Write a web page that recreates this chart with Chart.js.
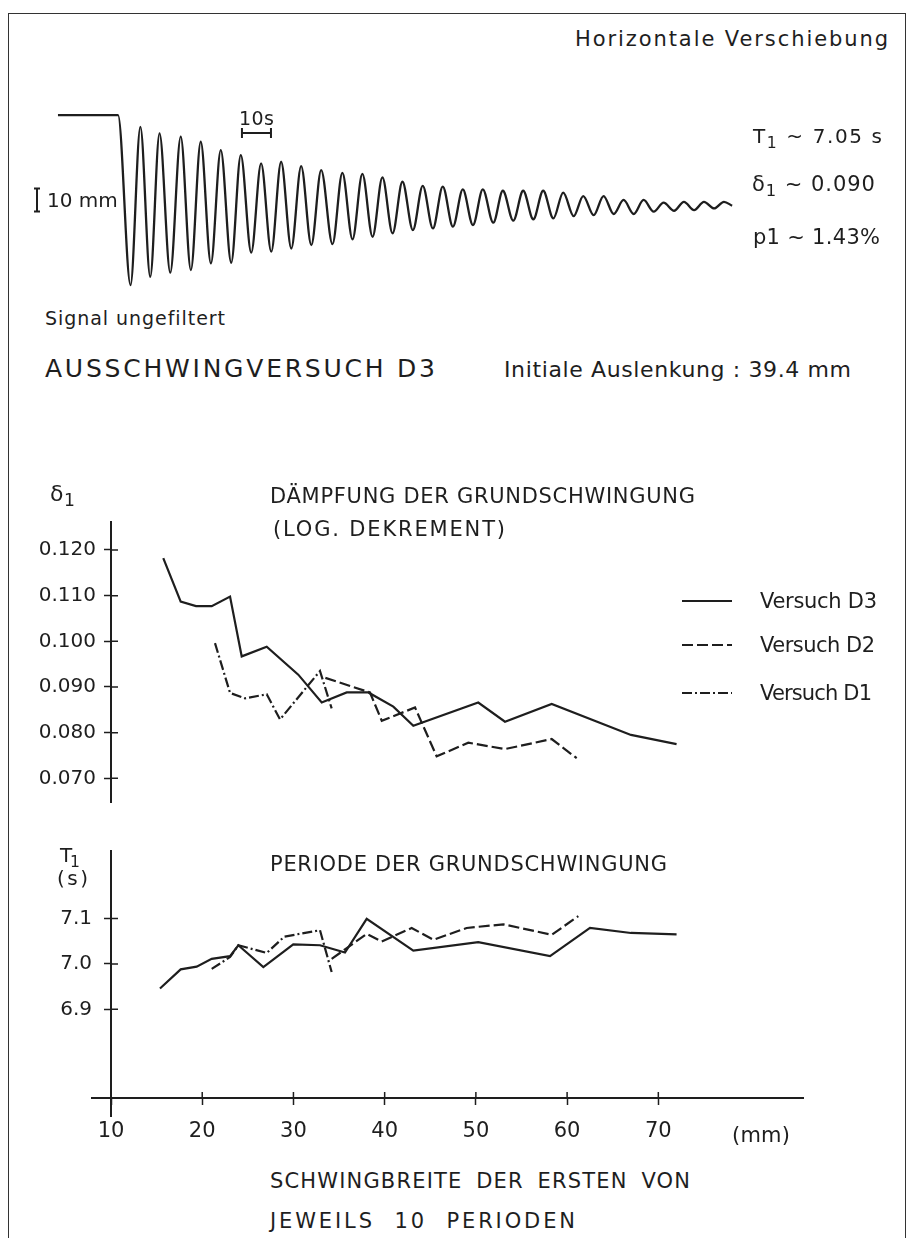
<!DOCTYPE html>
<html><head><meta charset="utf-8">
<script src="https://cdn.jsdelivr.net/npm/chart.js@4.4.1/dist/chart.umd.min.js"></script>
<style>
body{margin:0;background:#fff;}
#page{position:relative;width:912px;height:1238px;overflow:hidden;background:#fff;font-family:"DejaVu Sans",Arial,sans-serif;color:#1e1e1e;}
.t{position:absolute;white-space:pre;line-height:1;}
.t sub{font-size:0.78em;vertical-align:-0.3em;line-height:0;}
canvas{position:absolute;}
#frame{position:absolute;left:8px;top:13px;width:898px;height:1260px;border:1.5px solid #333;box-sizing:border-box;}
</style></head>
<body><div id="page">
<div id="frame"></div>
<canvas id="sig" width="740" height="210" style="left:20px;top:90px"></canvas>
<canvas id="dmp" width="912" height="320" style="left:0px;top:502px"></canvas>
<canvas id="per" width="912" height="331" style="left:0px;top:827px"></canvas>
</div>
<script>
// ---------- data ----------
const signalTime = [-21.5,-0.8,3.5,6.9,10.3,13.5,17.2,20.8,24.3,27.7,31.2,34.6,38.2,41.5,45.1,48.5,52.0,55.4,58.9,62.3,65.8,69.2,73.1,76.5,80.0,83.4,86.9,90.3,93.8,97.2,100.8,104.2,107.7,111.1,114.6,118.0,121.5,124.9,128.5,131.8,135.4,138.8,142.3,145.7,149.2,152.6,156.2,159.5,163.1,166.5,170.0,173.4,176.9,180.3,183.8,187.2,190.8,194.2,197.7,201.1,204.6,208.0,210.8];
const signalValue = [39.4,39.4,-34.5,34.3,-30.9,31.4,-29.1,30.0,-28.0,27.8,-25.1,24.2,-24.8,22.0,-20.4,18.4,-20.0,19.1,-18.6,17.2,-17.1,15.5,-16.7,14.3,-14.6,13.8,-13.5,12.3,-12.0,10.4,-10.6,8.6,-9.9,8.3,-9.1,7.1,-8.4,7.1,-7.4,6.5,-6.5,6.5,-5.9,6.5,-5.5,5.7,-4.5,4.2,-4.1,4.2,-3.6,2.5,-3.6,2.5,-2.6,1.3,-2.2,1.7,-1.9,1.7,-1.2,1.7,0.0];
const timeBarStart = 41.9, timeBarLength = 10;      // "10s" bar
const ampBarStart = -2.5, ampBarLength = 10;        // "10 mm" bar

const xTickValues = [10,20,30,40,50,60,70];
const xTickLabels = ['10','20','30','40','50','60','70'];
const deltaTickValues = [0.120,0.110,0.100,0.090,0.080,0.070];
const deltaTickLabels = ['0.120','0.110','0.100','0.090','0.080','0.070'];
const periodTickValues = [7.1,7.0,6.9];
const periodTickLabels = ['7.1','7.0','6.9'];

const d3DeltaX = [15.73,17.64,19.32,21.04,23.05,24.33,27.07,30.53,33.10,35.84,38.21,40.95,43.14,50.26,53.19,58.31,67.0,72.0];
const d3DeltaY = [0.1182,0.1087,0.1077,0.1077,0.1098,0.0967,0.0988,0.0927,0.0866,0.0888,0.0888,0.0857,0.0815,0.0866,0.0824,0.0863,0.0795,0.0775];
const d2DeltaX = [33.5,38.39,39.68,43.33,45.70,49.17,53.19,58.31,61.05];
const d2DeltaY = [0.0920,0.0888,0.0826,0.0855,0.0748,0.0778,0.0764,0.0786,0.0744];
const d1DeltaX = [21.40,23.05,24.69,27.07,28.53,32.91,34.19];
const d1DeltaY = [0.0996,0.0887,0.0875,0.0884,0.0829,0.0935,0.0853];

const d3PeriodX = [15.37,17.64,19.39,21.04,23.05,23.96,26.70,29.98,32.91,35.65,38.03,43.14,50.26,58.13,62.51,67.0,72.0];
const d3PeriodY = [6.946,6.988,6.994,7.011,7.017,7.041,6.993,7.043,7.041,7.025,7.099,7.029,7.048,7.017,7.079,7.068,7.065];
const d2PeriodX = [34.19,38.03,39.68,42.96,45.33,48.99,53.01,58.31,61.23];
const d2PeriodY = [7.011,7.066,7.049,7.079,7.053,7.079,7.087,7.064,7.105];
const d1PeriodX = [21.04,23.05,23.96,27.07,29.0,32.91,34.19];
const d1PeriodY = [6.989,7.015,7.041,7.024,7.060,7.074,6.982];

const seriesNames = ['Versuch D3','Versuch D2','Versuch D1'];

// ---------- styles ----------
const INK = '#1e1e1e';
const FONT = '"DejaVu Sans", Arial, sans-serif';
const dashD3 = [], dashD2 = [11,4], dashD1 = [10,3,2,3];
const pts = (xs, ys) => xs.map((x,i)=>({x, y: ys[i]}));
const ds = (xs, ys, dash, label) => ({label, data: pts(xs,ys), borderColor: INK, borderWidth: 2.2, borderDash: dash, pointRadius: 0, tension: 0, fill: false});

// ---------- text ----------
const page = document.getElementById('page');
function place(html, left, right, baseline, fs, wordGap){
  const d = document.createElement('div');
  d.className = 't'; d.innerHTML = html;
  d.style.fontSize = fs + 'px';
  d.style.left = left + 'px';
  d.style.top = (baseline - 0.846*fs) + 'px';
  if (wordGap) d.style.wordSpacing = wordGap + 'px';
  page.appendChild(d);
  if (right){
    const w = d.getBoundingClientRect().width;
    const n = d.textContent.length;
    if (n > 1) d.style.letterSpacing = ((right - left - w)/(n-1)) + 'px';
  }
}
place('Horizontale Verschiebung', 575, 888, 46.7, 21);
place('T<sub>1</sub> ~ 7.05 s', 753, 882, 143, 20);
place('δ<sub>1</sub> ~ 0.090', 752, 875, 191.7, 21);
place('p1 ~ 1.43%', 753, 880, 245, 21);
place('10 mm', 47, null, 206.7, 20);
place('10s', 239, 274, 125, 19);
place('Signal ungefiltert', 45, 225, 325, 19);
place('AUSSCHWINGVERSUCH D3', 45, 435, 376.7, 25);
place('Initiale Auslenkung : 39.4 mm', 504, 851, 378, 22);
place('δ<sub>1</sub>', 50, 75, 502, 22);
place('DÄMPFUNG DER GRUNDSCHWINGUNG', 270, 695, 504, 21);
place('(LOG. DEKREMENT)', 273, 505, 537, 21);
place('T<sub>1</sub>', 60, 80, 862, 20);
place('(s)', 57, 88, 885, 20);
place('PERIODE DER GRUNDSCHWINGUNG', 270, 667, 871.7, 21);
place('(mm)', 732, 790, 1143, 21);
place('SCHWINGBREITE DER ERSTEN VON', 270, 690, 1189, 21, 6);
place('JEWEILS 10 PERIODEN', 270, 575, 1229, 21, 10);
place(seriesNames[0], 760, 877, 608.5, 21);
place(seriesNames[1], 760, 875, 652.5, 21);
place(seriesNames[2], 760, 872, 700.5, 21);

// ---------- plugins ----------
const sigBars = {
  id: 'sigBars',
  afterDraw(chart){
    const {ctx, scales:{x, y}} = chart;
    ctx.save(); ctx.strokeStyle = INK; ctx.lineWidth = 2;
    const a = x.getPixelForValue(timeBarStart), b = x.getPixelForValue(timeBarStart + timeBarLength), yy = 43;
    ctx.beginPath(); ctx.moveTo(a,yy); ctx.lineTo(b,yy);
    ctx.moveTo(a,yy-5); ctx.lineTo(a,yy+5); ctx.moveTo(b,yy-5); ctx.lineTo(b,yy+5); ctx.stroke();
    const p = y.getPixelForValue(ampBarStart), q = y.getPixelForValue(ampBarStart + ampBarLength), xx = 17;
    ctx.beginPath(); ctx.moveTo(xx,p); ctx.lineTo(xx,q);
    ctx.moveTo(xx-3,p); ctx.lineTo(xx+3,p); ctx.moveTo(xx-3,q); ctx.lineTo(xx+3,q); ctx.stroke();
    ctx.restore();
  }
};
const crossTicks = {
  id: 'crossTicks',
  afterDraw(chart, args, opts){
    const {ctx, chartArea:ca, scales} = chart;
    ctx.save(); ctx.strokeStyle = INK; ctx.lineWidth = 1.5;
    ctx.beginPath();
    scales.y.ticks.forEach(t => { const py = scales.y.getPixelForValue(t.value); ctx.moveTo(ca.left, py); ctx.lineTo(ca.left + 7, py); });
    if (scales.x.options.display){
      scales.x.ticks.forEach(t => { const px = scales.x.getPixelForValue(t.value); if (px > ca.left + 2){ ctx.moveTo(px, ca.bottom); ctx.lineTo(px, ca.bottom - 6);} });
    }
    ctx.stroke();
    if (opts.extend){
      ctx.lineWidth = 2; ctx.beginPath();
      ctx.moveTo(ca.left, ca.bottom); ctx.lineTo(ca.left, ca.bottom + 19);
      ctx.moveTo(ca.left - 20, ca.bottom); ctx.lineTo(ca.left, ca.bottom);
      ctx.stroke();
    }
    if (opts.legend){
      const ys = [601 - 502, 645 - 502, 693 - 502];
      chart.data.datasets.forEach((d, i) => {
        ctx.lineWidth = 2; ctx.setLineDash(d.borderDash || []);
        ctx.beginPath(); ctx.moveTo(682, ys[i]); ctx.lineTo(732, ys[i]); ctx.stroke();
      });
      ctx.setLineDash([]);
    }
    ctx.restore();
  }
};

Chart.defaults.font.family = FONT;
Chart.defaults.color = INK;

// ---------- signal ----------
new Chart(document.getElementById('sig'), {
  type: 'line',
  data: {datasets: [{data: pts(signalTime, signalValue), borderColor: INK, borderWidth: 2.3, pointRadius: 0, cubicInterpolationMode: 'monotone', fill: false}]},
  options: {
    responsive: false, animation: false, layout: {padding: 0},
    plugins: {legend: {display: false}, tooltip: {enabled: false}},
    scales: {x: {type: 'linear', display: false, min: -34.58, max: 220.41}, y: {display: false, min: -41.0, max: 50.3}}
  },
  plugins: [sigBars]
});

function yAxis(min, max, tickValues, tickLabels, pad){
  return {
    min, max,
    afterBuildTicks: s => { s.ticks = tickValues.map(v => ({value: v})); },
    afterFit: s => { s.width = 111; },
    ticks: {callback: (v, i) => tickLabels[i], font: {size: 20, family: FONT}, color: INK, padding: pad, autoSkip: false},
    grid: {drawOnChartArea: false, tickLength: 7, tickWidth: 1.5, tickColor: INK},
    border: {display: true, color: INK, width: 2}
  };
}

// ---------- damping ----------
new Chart(document.getElementById('dmp'), {
  type: 'line',
  data: {datasets: [ds(d3DeltaX, d3DeltaY, dashD3, seriesNames[0]), ds(d2DeltaX, d2DeltaY, dashD2, seriesNames[1]), ds(d1DeltaX, d1DeltaY, dashD1, seriesNames[2])]},
  options: {
    responsive: false, animation: false,
    layout: {padding: {top: 20, bottom: 20, left: 0, right: 109}},
    plugins: {legend: {display: false}, tooltip: {enabled: false}, crossTicks: {legend: true}},
    scales: {
      x: {type: 'linear', display: false, min: 10, max: 85.86},
      y: yAxis(0.06481, 0.12613, deltaTickValues, deltaTickLabels, 8)
    }
  },
  plugins: [crossTicks]
});

// ---------- period ----------
new Chart(document.getElementById('per'), {
  type: 'line',
  data: {datasets: [ds(d3PeriodX, d3PeriodY, dashD3, seriesNames[0]), ds(d2PeriodX, d2PeriodY, dashD2, seriesNames[1]), ds(d1PeriodX, d1PeriodY, dashD1, seriesNames[2])]},
  options: {
    responsive: false, animation: false,
    layout: {padding: {top: 20, bottom: 0, left: 0, right: 109}},
    plugins: {legend: {display: false}, tooltip: {enabled: false}, crossTicks: {extend: true}},
    scales: {
      x: {
        type: 'linear', min: 10, max: 85.86,
        afterBuildTicks: s => { s.ticks = xTickValues.map(v => ({value: v})); },
        afterFit: s => { s.height = 60; },
        ticks: {callback: (v, i) => xTickLabels[i], font: {size: 21, family: FONT}, color: INK, padding: 14, maxRotation: 0, autoSkip: false},
        grid: {drawOnChartArea: false, tickLength: 7, tickWidth: 1.5, tickColor: INK},
        border: {display: true, color: INK, width: 2}
      },
      y: yAxis(6.705, 7.2483, periodTickValues, periodTickLabels, 12)
    }
  },
  plugins: [crossTicks]
});
</script>
</body></html>
